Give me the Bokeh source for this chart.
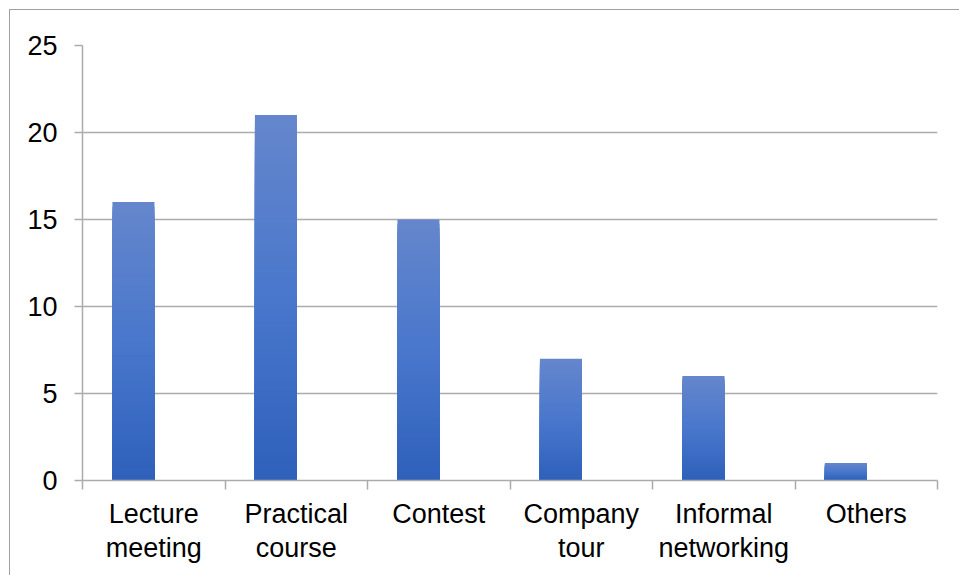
import numpy as np
from bokeh.plotting import figure
from bokeh.models import Range1d, FixedTicker, InlineStyleSheet
from bokeh.embed import file_html
from bokeh.resources import INLINE

# Survey counts per activity type
categories = ["Lecture\nmeeting", "Practical\ncourse", "Contest",
              "Company\ntour", "Informal\nnetworking", "Others"]
counts = [16, 21, 15, 7, 6, 1]
y_ticks = [0, 5, 10, 15, 20, 25]

FONT = "Liberation Sans"
FONT_SIZE = "27px"
GRID = "#ababab"

n = len(categories)
p = figure(width=959, height=575, output_backend="svg", toolbar_location=None,
           x_range=Range1d(0, n), y_range=Range1d(0, 25),
           min_border_left=82, min_border_right=22,
           min_border_top=45, min_border_bottom=95)
p.outline_line_color = None
p.background_fill_color = "white"
p.border_fill_color = "white"

# Thin frame along the left and top of the chart
p.stylesheets = [InlineStyleSheet(css="""
:host::after {
  content: "";
  position: absolute;
  left: 9px; top: 9px; right: 0; bottom: 0;
  border-left: 1.5px solid #a0a0a0;
  border-top: 1.5px solid #a0a0a0;
  pointer-events: none;
  z-index: 10;
}
""")]

# Bars: shaded from a lighter blue at the top to a deeper blue at the base,
# built by overlaying progressively shorter columns.
top_rgb = np.array([101, 134, 204])
mid_rgb = np.array([72, 119, 204])
bot_rgb = np.array([46, 96, 186])
steps = 60
bar_w = 0.295
x_pos = np.arange(n) + 0.21 + bar_w / 2
vals = np.array(counts, dtype=float)
for k in range(steps):
    frac = 1.0 - k / steps          # height fraction of this layer
    t = 1.0 - frac                  # 0 at top, ->1 towards base
    if t < 0.5:
        c = top_rgb + (mid_rgb - top_rgb) * (t / 0.5)
    else:
        c = mid_rgb + (bot_rgb - mid_rgb) * ((t - 0.5) / 0.5)
    col = "#%02x%02x%02x" % tuple(int(round(v)) for v in c)
    p.vbar(x=x_pos, width=bar_w, bottom=0, top=vals * frac,
           fill_color=col, line_color=None)

# Y axis and horizontal grid
p.yaxis.ticker = FixedTicker(ticks=y_ticks)
p.yaxis.axis_line_color = GRID
p.yaxis.axis_line_width = 1.5
p.yaxis.major_tick_line_color = GRID
p.yaxis.major_tick_line_width = 1.5
p.yaxis.major_tick_in = 0
p.yaxis.major_tick_out = 8
p.yaxis.minor_tick_line_color = None
p.yaxis.major_label_standoff = 17
p.yaxis.major_label_text_font = FONT
p.yaxis.major_label_text_font_size = FONT_SIZE
p.yaxis.major_label_text_color = "black"
p.ygrid.grid_line_color = GRID
p.ygrid.grid_line_width = 1.5
p.ygrid.ticker = FixedTicker(ticks=y_ticks)

# X axis: labels at category centres, tick marks at category boundaries
centers = [i + 0.5 for i in range(n)]
p.xaxis.ticker = FixedTicker(ticks=centers, minor_ticks=list(range(n + 1)))
p.xaxis.major_label_overrides = {c: lab for c, lab in zip(centers, categories)}
p.xaxis.axis_line_color = GRID
p.xaxis.axis_line_width = 1.5
p.xaxis.major_tick_line_color = None
p.xaxis.major_tick_in = 0
p.xaxis.major_tick_out = 0
p.xaxis.minor_tick_line_color = GRID
p.xaxis.minor_tick_line_width = 1.5
p.xaxis.minor_tick_in = 0
p.xaxis.minor_tick_out = 9
p.xaxis.major_label_standoff = 9
p.xaxis.major_label_text_font = FONT
p.xaxis.major_label_text_font_size = FONT_SIZE
p.xaxis.major_label_text_color = "black"
p.xaxis.major_label_text_line_height = 1.15
p.xgrid.grid_line_color = None

open("out.html", "w").write(file_html(p, INLINE))
